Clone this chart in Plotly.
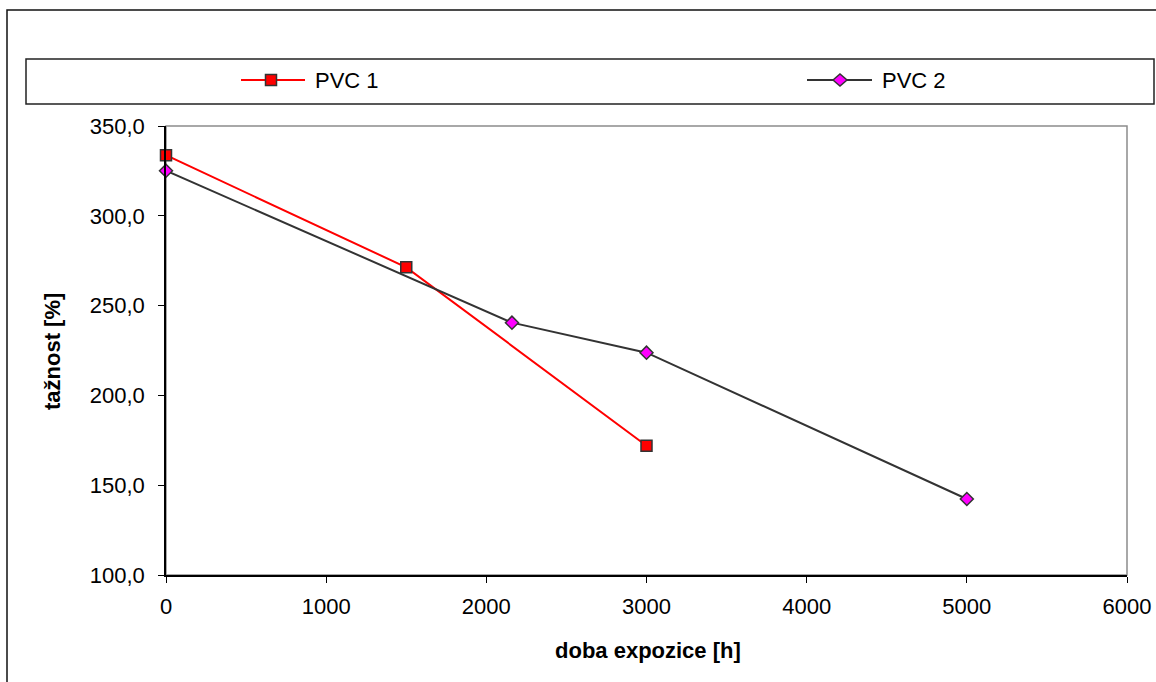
import plotly.graph_objects as go

# ---- data ----
pvc1_x = [0, 1500, 3000]
pvc1_y = [333.7, 271.3, 172.0]
pvc2_x = [0, 2160, 3000, 5000]
pvc2_y = [325.1, 240.5, 223.8, 142.3]
series_names = ["PVC 1", "PVC 2"]
x_title = "doba expozice [h]"
y_title = "tažnost [%]"

W, H = 1156, 682
L, R, T, B = 166, 1127, 126, 575  # plot area in pixels


def px(x):
    return (x - L) / (R - L)


def py(y):
    return (B - y) / (B - T)


FONT = "Liberation Sans, Arial, sans-serif"

fig = go.Figure()
fig.add_trace(go.Scatter(
    x=pvc1_x, y=pvc1_y, name=series_names[0], mode="lines+markers",
    line=dict(color="#ff0000", width=2),
    marker=dict(symbol="square", size=11, color="#ff0000",
                line=dict(color="#333333", width=1.5)),
    cliponaxis=False, showlegend=False))
fig.add_trace(go.Scatter(
    x=pvc2_x, y=pvc2_y, name=series_names[1], mode="lines+markers",
    line=dict(color="#333333", width=2),
    marker=dict(symbol="diamond", size=10, color="#ff00ff",
                line=dict(color="#333333", width=1.5)),
    cliponaxis=False, showlegend=False))

shapes = []
# outer chart border
shapes.append(dict(type="rect", xref="paper", yref="paper",
                   x0=px(7), x1=px(1170), y0=py(10), y1=py(700),
                   line=dict(color="#111111", width=1.5), layer="below"))
# plot area frame (gray)
shapes.append(dict(type="rect", xref="paper", yref="paper",
                   x0=0, x1=1, y0=0, y1=1,
                   line=dict(color="#8c8c8c", width=1.5), layer="below"))
# legend box
shapes.append(dict(type="rect", xref="paper", yref="paper",
                   x0=px(26), x1=px(1154), y0=py(59), y1=py(104),
                   line=dict(color="#222222", width=1.5)))
# legend sample PVC 1
ly = 80
shapes.append(dict(type="line", xref="paper", yref="paper",
                   x0=px(241), x1=px(305), y0=py(ly), y1=py(ly),
                   line=dict(color="#ff0000", width=2)))
shapes.append(dict(type="rect", xref="paper", yref="paper",
                   x0=px(265.5), x1=px(276.5), y0=py(ly - 5.5), y1=py(ly + 5.5),
                   fillcolor="#ff0000", line=dict(color="#333333", width=1.5)))
# legend sample PVC 2
shapes.append(dict(type="line", xref="paper", yref="paper",
                   x0=px(807), x1=px(872), y0=py(ly), y1=py(ly),
                   line=dict(color="#333333", width=2)))
cx = 840
dpath = "M {:.5f},{:.5f} L {:.5f},{:.5f} L {:.5f},{:.5f} L {:.5f},{:.5f} Z".format(
    px(cx - 7), py(ly), px(cx), py(ly - 6), px(cx + 7), py(ly), px(cx), py(ly + 6))
shapes.append(dict(type="path", xref="paper", yref="paper", path=dpath,
                   fillcolor="#ff00ff", line=dict(color="#333333", width=1.5)))

annotations = [
    dict(text=series_names[0], xref="paper", yref="paper", x=px(313), y=py(ly),
         xanchor="left", yanchor="middle", showarrow=False,
         font=dict(family=FONT, size=22, color="#000000")),
    dict(text=series_names[1], xref="paper", yref="paper", x=px(880), y=py(ly),
         xanchor="left", yanchor="middle", showarrow=False,
         font=dict(family=FONT, size=22, color="#000000")),
    dict(text="<b>" + x_title + "</b>", xref="paper", yref="paper",
         x=px(648), y=py(650), xanchor="center", yanchor="middle", showarrow=False,
         font=dict(family=FONT, size=22, color="#000000")),
    dict(text="<b>" + y_title + "</b>", xref="paper", yref="paper",
         x=px(52), y=py(352), xanchor="center", yanchor="middle", showarrow=False,
         textangle=-90, font=dict(family=FONT, size=22, color="#000000")),
]

fig.update_layout(
    width=W, height=H, autosize=False,
    margin=dict(l=L, r=W - R, t=T, b=H - B, pad=0, autoexpand=False),
    paper_bgcolor="white", plot_bgcolor="white",
    separators=",.",
    showlegend=False,
    shapes=shapes, annotations=annotations,
    font=dict(family=FONT, size=22, color="#000000"),
)
fig.update_xaxes(range=[0, 6000], dtick=1000, tick0=0, showgrid=False, zeroline=False,
                 showline=True, linecolor="#000000", linewidth=1.5, automargin=False,
                 ticks="outside", ticklen=6, tickcolor="#000000", tickwidth=1,
                 ticklabelstandoff=5,
                 tickfont=dict(family=FONT, size=22, color="#000000"))
fig.update_yaxes(range=[100, 350], dtick=50, tick0=100, tickformat=".1f",
                 showgrid=False, zeroline=False, automargin=False,
                 showline=True, linecolor="#000000", linewidth=1.5,
                 ticks="outside", ticklen=6, tickcolor="#000000", tickwidth=1,
                 ticklabelstandoff=9,
                 tickfont=dict(family=FONT, size=22, color="#000000"))

fig.write_html("out.html", config={"responsive": False})
